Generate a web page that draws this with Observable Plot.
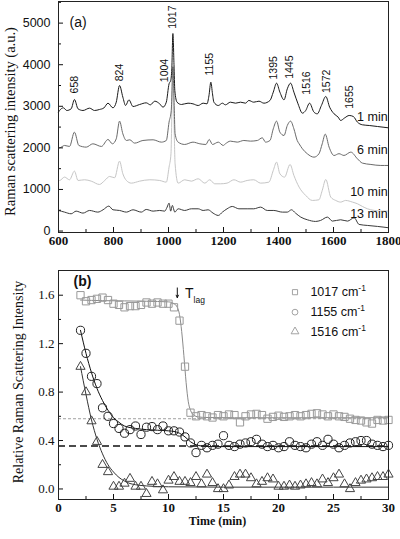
<!DOCTYPE html>
<html><head><meta charset="utf-8">
<script src="https://cdn.jsdelivr.net/npm/d3@7"></script>
<script src="https://cdn.jsdelivr.net/npm/@observablehq/plot@0.6"></script>
<style>
html,body{margin:0;padding:0;background:#fff;}
#chart{width:400px;height:539px;position:relative;overflow:hidden;background:#fff;}
#chart svg{display:block;}
</style></head><body><div id="chart"></div>
<script>
// ---------- Panel (a): Raman spectra [wavenumber (cm-1), intensity (a.u.)] ----------
const spec1min = [[600,2860],[604,2899],[618,2963],[630,2899],[646,2939],[658,3163],[671,2939],[689,2899],[713,2955],[731,2899],[749,2923],[765,2960],[780,3075],[798,2963],[810,3099],[822,3500],[834,3220],[844,3019],[856,3155],[871,2995],[895,3043],[919,3083],[934,3035],[950,3123],[968,3059],[980,2979],[992,3099],[1002,3540],[1008,3620],[1012,3900],[1016,4750],[1020,4000],[1023,3380],[1031,3099],[1047,3043],[1071,3075],[1089,3059],[1108,3019],[1126,3075],[1140,3059],[1147,3250],[1154,3580],[1160,3300],[1165,3099],[1181,3019],[1196,3075],[1207,3035],[1225,3099],[1244,3075],[1262,3099],[1280,3075],[1292,3140],[1310,3099],[1329,3123],[1347,3075],[1369,3140],[1381,3340],[1393,3556],[1405,3340],[1420,3155],[1432,3420],[1444,3556],[1456,3340],[1471,3059],[1487,2835],[1499,2899],[1513,3075],[1529,2859],[1541,2819],[1556,3019],[1572,3236],[1586,2979],[1602,2819],[1617,2739],[1626,2659],[1641,2723],[1657,2779],[1672,2755],[1687,2619],[1705,2555],[1730,2538],[1760,2514],[1800,2482]];
const spec6min = [[600,2002],[604,2002],[622,2058],[640,2034],[658,2378],[674,2058],[701,2018],[725,2098],[756,2034],[780,2202],[796,2098],[810,2218],[822,2643],[834,2338],[847,2178],[859,2194],[877,2114],[907,2178],[944,2194],[974,2138],[992,2178],[1002,2619],[1010,2899],[1016,3950],[1020,3200],[1024,2338],[1035,2138],[1059,2082],[1089,2138],[1114,2098],[1136,2082],[1148,2202],[1160,2082],[1181,2138],[1199,2058],[1207,2098],[1225,2162],[1250,2138],[1274,2178],[1298,2162],[1323,2178],[1341,2242],[1353,2138],[1369,2178],[1381,2458],[1393,2643],[1405,2378],[1420,2298],[1432,2538],[1444,2643],[1456,2458],[1468,2178],[1475,2098],[1487,1978],[1505,1857],[1529,1777],[1547,1857],[1559,2098],[1570,2330],[1584,2018],[1602,1817],[1620,1860],[1638,1818],[1663,1898],[1687,1738],[1705,1634],[1736,1601],[1772,1577],[1800,1577]];
const spec10min = [[600,1216],[604,1216],[622,1297],[640,1233],[658,1441],[671,1216],[695,1233],[719,1200],[749,1120],[768,1216],[786,1313],[804,1281],[822,1681],[834,1377],[847,1216],[865,1152],[895,1200],[932,1233],[968,1216],[992,1176],[1002,1537],[1009,1858],[1015,3600],[1020,2600],[1024,1617],[1035,1152],[1059,1233],[1083,1200],[1108,1257],[1132,1152],[1150,1233],[1168,1136],[1189,1136],[1213,1152],[1238,1233],[1262,1176],[1286,1216],[1310,1233],[1335,1152],[1365,1176],[1381,1457],[1393,1657],[1405,1377],[1422,1297],[1442,1601],[1456,1337],[1475,1056],[1499,856],[1523,736],[1547,752],[1559,976],[1572,1240],[1590,816],[1608,736],[1626,696],[1644,736],[1669,696],[1687,656],[1705,592],[1723,536],[1748,496],[1778,480],[1800,480]];
const spec13min = [[600,495],[622,455],[646,415],[664,479],[689,431],[713,495],[743,455],[762,511],[783,600],[798,511],[822,495],[847,455],[871,511],[901,455],[919,519],[944,479],[968,495],[986,479],[995,575],[1002,672],[1008,479],[1014,616],[1023,455],[1035,535],[1059,495],[1083,535],[1108,535],[1126,495],[1144,511],[1162,431],[1181,375],[1196,455],[1213,535],[1232,591],[1256,535],[1286,535],[1310,535],[1335,575],[1359,495],[1383,495],[1414,455],[1432,455],[1447,511],[1462,431],[1481,335],[1505,271],[1535,231],[1553,255],[1578,335],[1596,239],[1626,271],[1651,239],[1675,319],[1693,159],[1723,135],[1760,111],[1800,79]];
const traceNames = ["1 min", "6 min", "10 min", "13 min"];
const traceLabelY = [2738, 1938, 928, 410];
const peakLabels = ["658","824","1004","1017","1155","1395","1445","1516","1572","1655"];
const peakLabelWn = [658, 822, 987, 1015, 1151, 1384, 1442, 1502, 1576, 1660];
const peakLabelBase = [3309, 3603, 3580, 4863, 3740, 3645, 3660, 3280, 3320, 2940];
const xTicksA = [600, 800, 1000, 1200, 1400, 1600, 1800];
const xMinorA = [700, 900, 1100, 1300, 1500, 1700];
const yTicksA = [0, 1000, 2000, 3000, 4000, 5000];
const yMinorA = [500, 1500, 2500, 3500, 4500, 5500];

// ---------- Panel (b): relative intensity vs time ----------
const times = [2,2.5,3,3.5,4,4.5,5,5.5,6,6.5,
               7,7.5,8,8.5,9,9.5,10,10.5,11,11.5,
               12,12.5,13,13.5,14,14.5,15,15.5,16,16.5,
               17,17.5,18,18.5,19,19.5,20,20.5,21,21.5,
               22,22.5,23,23.5,24,24.5,25,25.5,26,26.5,
               27,27.5,28,28.5,29,29.5,30];
const int1017 = [1.60,1.55,1.56,1.57,1.58,1.56,1.53,1.52,1.50,1.51,
                 1.51,1.52,1.54,1.53,1.54,1.53,1.53,1.50,1.39,1.01,
                 0.63,0.60,0.61,0.60,0.59,0.61,0.60,0.615,0.61,0.55,
                 0.60,0.615,0.62,0.61,0.58,0.595,0.605,0.595,0.60,0.61,
                 0.60,0.61,0.62,0.625,0.615,0.60,0.615,0.60,0.595,0.58,
                 0.57,0.565,0.55,0.54,0.57,0.565,0.57];
const int1155 = [1.31,1.12,0.93,0.87,0.67,0.60,0.54,0.50,0.46,0.49,
                 0.52,0.45,0.51,0.515,0.49,0.52,0.48,0.48,0.47,0.43,
                 0.38,0.30,0.36,0.34,0.36,0.37,0.44,0.36,0.35,0.37,
                 0.38,0.39,0.41,0.37,0.35,0.36,0.34,0.35,0.39,0.36,
                 0.35,0.34,0.37,0.39,0.36,0.41,0.37,0.34,0.36,0.38,
                 0.39,0.40,0.40,0.37,0.36,0.35,0.36];
const int1516 = [1.01,0.80,0.56,0.39,0.20,0.14,0.02,0.02,0.045,0.085,
                 0.02,0.02,-0.04,0.06,0.04,-0.01,0.07,0.10,0.06,0.06,
                 0.05,0.10,0.04,0.12,0.05,0.00,0.00,0.03,0.10,0.12,
                 0.12,0.09,0.04,0.06,0.09,0.08,0.02,0.02,0.03,0.02,
                 0.03,0.04,0.05,0.04,0.08,0.05,0.09,0.12,0.04,0.00,
                 0.05,0.07,0.08,0.09,0.10,0.10,0.12];
const fit1017T = [2,4,6,8,10,10.5,10.8,11,11.2,11.4,11.6,11.8,12,12.3,12.7,13.5,16,20,25,30];
const fit1017  = [1.56,1.555,1.553,1.55,1.545,1.53,1.50,1.44,1.30,1.10,0.88,0.72,0.65,0.61,0.595,0.59,0.588,0.588,0.588,0.588];
const fit1155T = [2,2.5,3,3.5,4,4.5,5,5.5,6,7,8,9,10,10.5,11,11.5,12,12.5,13,14,16,20,25,30];
const fit1155  = [1.31,1.12,0.96,0.83,0.73,0.65,0.59,0.55,0.52,0.50,0.49,0.485,0.48,0.475,0.46,0.43,0.39,0.365,0.355,0.35,0.35,0.35,0.35,0.35];
const fit1516T = [2,2.5,3,3.5,4,4.5,5,5.5,6,6.5,7,8,9,10,15,20,25,30];
const fit1516  = [1.01,0.78,0.57,0.41,0.29,0.20,0.14,0.095,0.065,0.045,0.035,0.025,0.02,0.018,0.015,0.015,0.015,0.015];
const refLevels = [0.58, 0.355];
const lagTime = 10.8;
const legendLabels = ["1017 cm", "1155 cm", "1516 cm"];
const xTicksB = [0, 5, 10, 15, 20, 25, 30];
const xMinorB = [2.5, 7.5, 12.5, 17.5, 22.5, 27.5];
const yTicksB = [0.0, 0.4, 0.8, 1.2, 1.6];
const yMinorB = [0.2, 0.6, 1.0, 1.4];

// ---------- drawing ----------
const SERIF = "'Liberation Serif','Times New Roman',serif";
const SANS = "'Liberation Sans',Arial,sans-serif";
const INK = "#111";

const specs = [spec1min, spec6min, spec10min, spec13min];
const specColors = ["#1a1a1a", "#6a6a6a", "#c6c6c6", "#3a3a3a"];
const drawOrder = [3, 2, 1, 0];

const chartA = Plot.plot({
  width: 400, height: 260,
  marginLeft: 58, marginRight: 12, marginTop: 1, marginBottom: 28,
  x: {domain: [600, 1800]},
  y: {domain: [-35, 5520]},
  style: {background: "#fff", color: INK, overflow: "visible"},
  marks: [
    ...drawOrder.map(i => Plot.line(specs[i], {x: d => d[0], y: d => d[1], stroke: specColors[i], strokeWidth: 1, curve: "monotone-x"})),
    Plot.text(peakLabels, {x: (d, i) => peakLabelWn[i], y: (d, i) => peakLabelBase[i], text: d => d, rotate: -90, textAnchor: "start", fontFamily: SANS, fontSize: 10.5, fill: INK}),
    Plot.text(traceNames, {x: () => 1797, y: (d, i) => traceLabelY[i], text: d => d, textAnchor: "end", fontFamily: SANS, fontSize: 12.5, fill: INK}),
    Plot.text(["(a)"], {frameAnchor: "top-left", dx: 11, dy: 21.5, textAnchor: "start", lineAnchor: "middle", fontFamily: SANS, fontSize: 14, fill: INK}),
    Plot.text(["Raman scattering intensity (a.u.)"], {frameAnchor: "left", rotate: -90, dx: -48.5, dy: 4.5, textAnchor: "middle", lineAnchor: "middle", fontFamily: SERIF, fontSize: 14.5, fill: INK}),
    Plot.axisX({ticks: xMinorA, tickSize: -3, tickFormat: () => "", label: null}),
    Plot.axisX({ticks: xTicksA, tickSize: -5, tickFormat: () => "", label: null}),
    Plot.axisX({ticks: xTicksA, tickSize: 0, tickPadding: 3, tickFormat: d => String(d), label: null, fontFamily: SERIF, fontSize: 13, fontWeight: "bold"}),
    Plot.axisY({ticks: yMinorA, tickSize: -3, tickFormat: () => "", label: null}),
    Plot.axisY({ticks: yTicksA, tickSize: -5, tickFormat: () => "", label: null}),
    Plot.axisY({ticks: yTicksA, tickSize: 0, tickPadding: 8, tickFormat: d => String(d), label: null, fontFamily: SANS, fontSize: 12.5}),
    Plot.frame({stroke: "#222", strokeWidth: 1})
  ]
});

const pts = times.map((t, i) => ({t, a: int1017[i], b: int1155[i], c: int1516[i]}));
const legendX = 21.5, legendTextX = 22.9, legendY = [1.625, 1.46, 1.30];

const chartB = Plot.plot({
  width: 400, height: 279,
  marginLeft: 58, marginRight: 12, marginTop: 10, marginBottom: 40,
  x: {domain: [0, 30]},
  y: {domain: [-0.087, 1.804]},
  style: {background: "#fff", color: INK},
  marks: [
    Plot.ruleY([refLevels[0]], {stroke: "#8a8a8a", strokeWidth: 0.8, strokeDasharray: "3,2"}),
    Plot.ruleY([refLevels[1]], {stroke: "#111", strokeWidth: 1.6, strokeDasharray: "7,4"}),
    Plot.line(fit1017T.map((t, i) => [t, fit1017[i]]), {x: d => d[0], y: d => d[1], stroke: "#8a8a8a", strokeWidth: 1, curve: "monotone-x"}),
    Plot.line(fit1155T.map((t, i) => [t, fit1155[i]]), {x: d => d[0], y: d => d[1], stroke: "#111", strokeWidth: 1, curve: "monotone-x"}),
    Plot.line(fit1516T.map((t, i) => [t, fit1516[i]]), {x: d => d[0], y: d => d[1], stroke: "#333", strokeWidth: 1, curve: "monotone-x"}),
    Plot.dot(pts, {x: "t", y: "a", symbol: "square", r: 4.1, stroke: "#999", fill: "none", strokeWidth: 1}),
    Plot.dot(pts, {x: "t", y: "b", symbol: "circle", r: 4.1, stroke: "#222", fill: "none", strokeWidth: 1}),
    Plot.dot(pts, {x: "t", y: "c", symbol: "triangle", r: 3.4, stroke: "#444", fill: "none", strokeWidth: 1}),
    // legend
    Plot.dot(["square", "circle", "triangle"], {x: () => legendX, y: (d, i) => legendY[i], symbol: d => d, r: 2.9, stroke: "#999", fill: "none", strokeWidth: 0.9}),
    Plot.text(legendLabels, {x: () => legendTextX, y: (d, i) => legendY[i], text: d => d, textAnchor: "start", fontFamily: SANS, fontSize: 12.5, fill: INK}),
    // T_lag annotation
    Plot.arrow([lagTime], {x1: d => d, x2: d => d, y1: () => 1.66, y2: () => 1.58, stroke: INK, strokeWidth: 1, headLength: 4, headAngle: 50}),
    Plot.text(["T"], {x: () => 11.5, y: () => 1.615, text: d => d, textAnchor: "start", fontFamily: SANS, fontSize: 14, fill: INK}),
    Plot.text(["(b)"], {frameAnchor: "top-left", dx: 15, dy: 11, textAnchor: "start", lineAnchor: "middle", fontFamily: SANS, fontSize: 14, fontWeight: "bold", fill: INK}),
    Plot.text(["Relative Raman Scattering Intensity"], {frameAnchor: "left", rotate: -90, dx: -40, dy: -3, textAnchor: "middle", lineAnchor: "middle", fontFamily: SERIF, fontSize: 14, fill: INK}),
    Plot.text(["Time (min)"], {frameAnchor: "bottom", dx: -6, dy: 22, textAnchor: "middle", lineAnchor: "middle", fontFamily: SERIF, fontSize: 12, fontWeight: "bold", fill: INK}),
    Plot.axisX({ticks: xMinorB, tickSize: -3, tickFormat: () => "", label: null}),
    Plot.axisX({ticks: xTicksB, tickSize: -5, tickFormat: () => "", label: null}),
    Plot.axisX({ticks: xTicksB, tickSize: 0, tickPadding: 3, tickFormat: d => String(d), label: null, fontFamily: SERIF, fontSize: 13, fontWeight: "bold"}),
    Plot.axisY({ticks: yMinorB, tickSize: -3, tickFormat: () => "", label: null}),
    Plot.axisY({ticks: yTicksB, tickSize: -5, tickFormat: () => "", label: null}),
    Plot.axisY({ticks: yTicksB, tickSize: 0, tickPadding: 4, tickFormat: d3.format(".1f"), label: null, fontFamily: SERIF, fontSize: 13}),
    Plot.frame({stroke: "#222", strokeWidth: 1})
  ]
});

// superscripts / subscripts
const NS = "http://www.w3.org/2000/svg";
chartB.querySelectorAll("text").forEach(t => {
  const s = t.textContent;
  if (/ cm$/.test(s)) {
    const ts = document.createElementNS(NS, "tspan");
    ts.setAttribute("dy", "-5"); ts.setAttribute("font-size", "8.5"); ts.textContent = "-1";
    t.appendChild(ts);
  } else if (s === "T") {
    const ts = document.createElementNS(NS, "tspan");
    ts.setAttribute("dy", "5"); ts.setAttribute("font-size", "8.5"); ts.textContent = "lag";
    t.appendChild(ts);
  }
});

const root = document.getElementById("chart");
root.appendChild(chartA);
root.appendChild(chartB);
</script></body></html>
